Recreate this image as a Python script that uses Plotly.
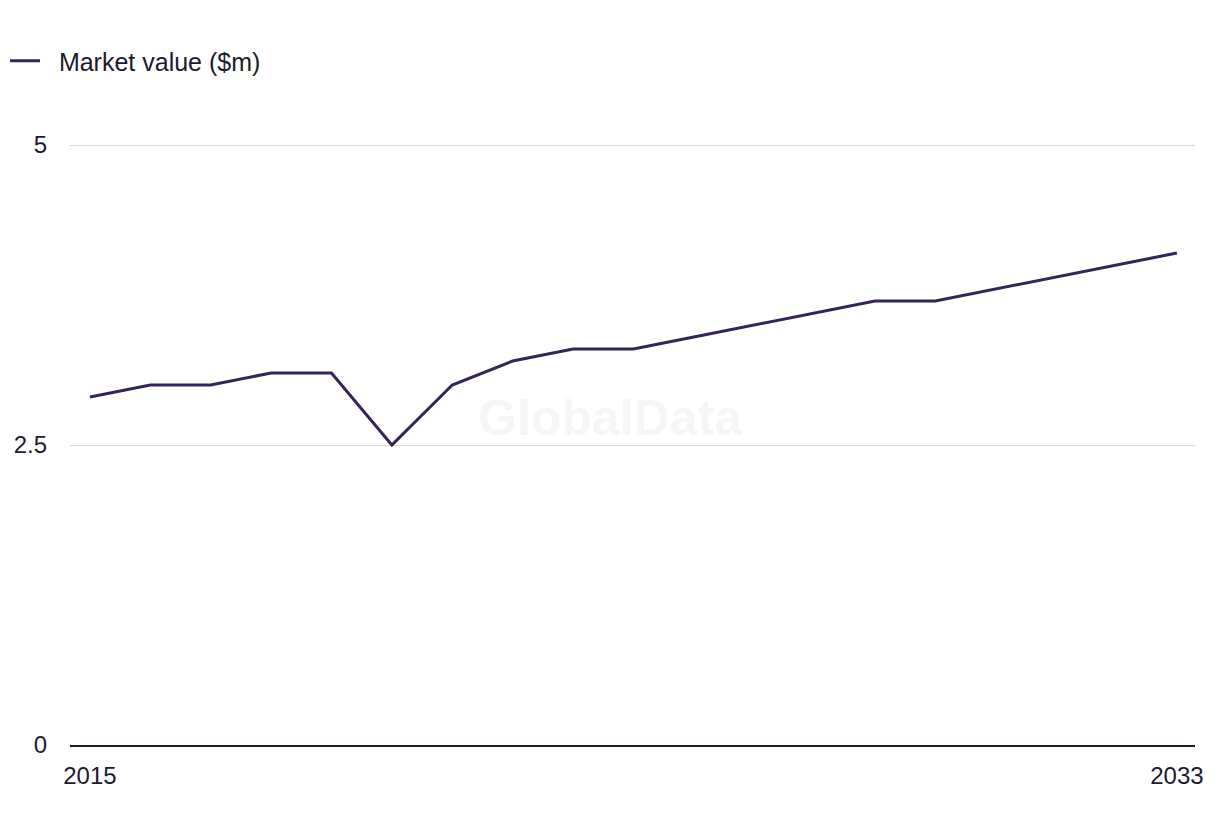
import plotly.graph_objects as go

years = list(range(2015, 2034))
market_value = [2.9, 3.0, 3.0, 3.1, 3.1, 2.5, 3.0, 3.2, 3.3, 3.3,
                3.4, 3.5, 3.6, 3.7, 3.7, 3.8, 3.9, 4.0, 4.1]
series_name = "Market value ($m)"
x_ticks = [2015, 2033]
y_ticks = [0, 2.5, 5]
y_tick_labels = ["0", "2.5", "5"]

text_color = "#1b1a2e"
line_color = "#35235a"
font_family = "Liberation Sans, Arial, sans-serif"

fig = go.Figure()
fig.add_trace(go.Scatter(
    x=years, y=market_value, mode="lines", name="\u00a0\u00a0" + series_name,
    line=dict(color=line_color, width=3),
))

fig.add_annotation(
    text="<b>GlobalData</b>", xref="paper", yref="paper", x=0.48, y=0.524,
    showarrow=False, font=dict(size=50, color="#f5f5f5", family=font_family),
)

fig.update_layout(
    width=1220, height=836,
    margin=dict(l=70, r=25, t=121, b=91),
    paper_bgcolor="white", plot_bgcolor="white",
    font=dict(family=font_family, size=24, color=text_color),
    showlegend=True,
    legend=dict(
        orientation="h", xref="container", yref="container",
        x=5 / 1220, y=1 - 38 / 836, xanchor="left", yanchor="top",
        font=dict(size=25, color=text_color),
        itemwidth=30,
    ),
    xaxis=dict(
        range=[2014.67, 2033.3], tickvals=x_ticks, ticktext=[str(v) for v in x_ticks],
        showgrid=False, zeroline=False, showline=True, linecolor=text_color, linewidth=2,
        ticks="", ticklabelstandoff=8,
    ),
    yaxis=dict(
        range=[0, 5.2], tickvals=y_ticks, ticktext=y_tick_labels,
        showgrid=True, gridcolor="#d9d9d9", gridwidth=1,
        zeroline=False, showline=False, ticks="", ticklabelstandoff=22,
    ),
)

fig.write_html("out.html")
